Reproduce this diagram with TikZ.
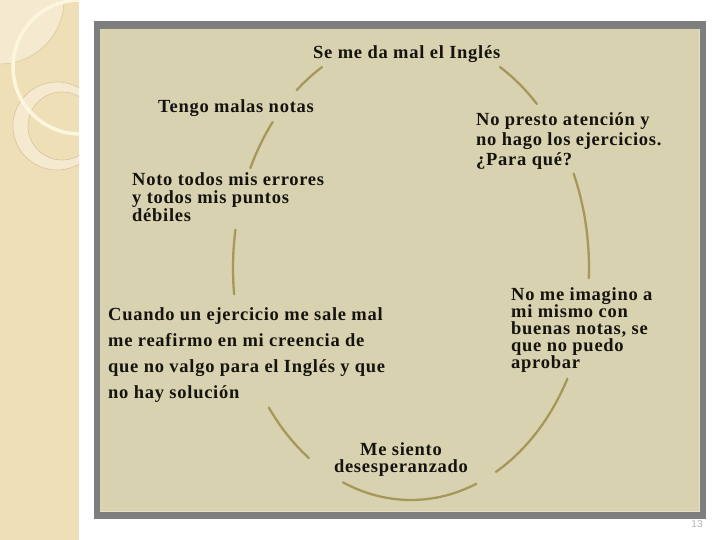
\documentclass[tikz,border=0pt]{standalone}
\usepackage{fontspec}
\setmainfont{Liberation Serif}
\setsansfont{Liberation Sans}
\definecolor{strip}{HTML}{EFDFB6}
\definecolor{stripl}{HTML}{F5EAD0}
\definecolor{stripline}{HTML}{D9C398}
\definecolor{cream}{HTML}{FDF6DE}
\definecolor{frame}{HTML}{7E7E7E}
\definecolor{panel}{HTML}{D9D2B0}
\definecolor{panell}{HTML}{E6E0C6}
\definecolor{arcc}{HTML}{A6975A}
\definecolor{txt}{HTML}{15130E}
\definecolor{pnum}{HTML}{B4B4B4}
\newcommand{\tightlines}{\lineskiplimit -20pt\relax}
\tikzset{
  lbl/.style={anchor=north west, inner sep=0pt, align=left, text=txt,
    font={\bfseries\fontsize{18.5}{#1}\selectfont\addfontfeature{LetterSpace=4}\tightlines}},
  lblc/.style={anchor=north, inner sep=0pt, align=center, text=txt,
    font={\bfseries\fontsize{18.5}{#1}\selectfont\addfontfeature{LetterSpace=4}\tightlines}},
  cyc/.style={draw=arcc, line width=2.3pt, line cap=round}
}
\newcommand{\fs}{\rule{0pt}{15pt}}
\begin{document}
\begin{tikzpicture}[x=1pt,y=-1pt]
\useasboundingbox (0,0) rectangle (720,540);
\fill[white] (0,0) rectangle (720,540);
% left decorative strip
\begin{scope}
  \clip (0,0) rectangle (79,540);
  \fill[strip] (0,0) rectangle (79,540);
  \fill[stripl] (0,0) circle[radius=64];
  \draw[stripline, line width=0.5pt] (0,0) circle[radius=64];
  \fill[stripl, even odd rule] (57,126) circle[radius=44] (62,126) circle[radius=34];
  \draw[stripline, line width=0.6pt] (57,126) circle[radius=44];
  \draw[stripline, line width=0.6pt] (62,126) circle[radius=34];
  \draw[cream, line width=3.5pt] (80,67) circle[radius=67];
\end{scope}
% framed panel
\fill[frame] (94,21) rectangle (706,519);
\fill[panell] (100,29) rectangle (700,512);
\fill[panel] (100,29) rectangle (698.5,510.5);
% cycle arcs
\draw[cyc] plot[domain=230:240, samples=12, smooth] ({411+178*cos(\x)}, {268+232*sin(\x)});
\draw[cyc] plot[domain=205.5:219, samples=12, smooth] ({411+178*cos(\x)}, {268+232*sin(\x)});
\draw[cyc] plot[domain=173.5:189.5, samples=12, smooth] ({411+178*cos(\x)}, {268+232*sin(\x)});
\draw[cyc] plot[domain=125:143, samples=12, smooth] ({411+178*cos(\x)}, {268+232*sin(\x)});
\draw[cyc] plot[domain=68.5:112.5, samples=20, smooth] ({411+178*cos(\x)}, {268+232*sin(\x)});
\draw[cyc] plot[domain=28.5:61.5, samples=16, smooth] ({411+178*cos(\x)}, {268+232*sin(\x)});
\draw[cyc] plot[domain=-24:2.5, samples=14, smooth] ({411+178*cos(\x)}, {268+232*sin(\x)});
\draw[cyc] plot[domain=-60:-45, samples=12, smooth] ({411+178*cos(\x)}, {268+232*sin(\x)});
% texts
\node[lbl=20] (ingles) at (313,43) {\fs Se me da mal el Inglés};
\node[lbl=20] (notas) at (158,97) {\fs Tengo malas notas};
\node[lbl=18] (errores) at (132,170) {\fs Noto todos mis errores\\y todos mis puntos\\débiles};
\node[lbl=20] (atencion) at (476,110) {\fs No presto atención y\\no hago los ejercicios.\\¿Para qué?};
\node[lbl=26] (cuando) at (108,305) {\fs Cuando un ejercicio me sale mal\\me reafirmo en mi creencia de\\que no valgo para el Inglés y que\\no hay solución};
\node[lbl=17] (imagino) at (511,285) {\fs No me imagino a\\mi mismo con\\buenas notas, se\\que no puedo\\aprobar};
\node[lblc=17] (siento) at (401,440) {\fs Me siento\\desesperanzado};
\node[text=pnum, font=\sffamily\fontsize{10}{12}\selectfont, inner sep=0pt] (pg) at (697,524) {13};
\end{tikzpicture}
\end{document}
